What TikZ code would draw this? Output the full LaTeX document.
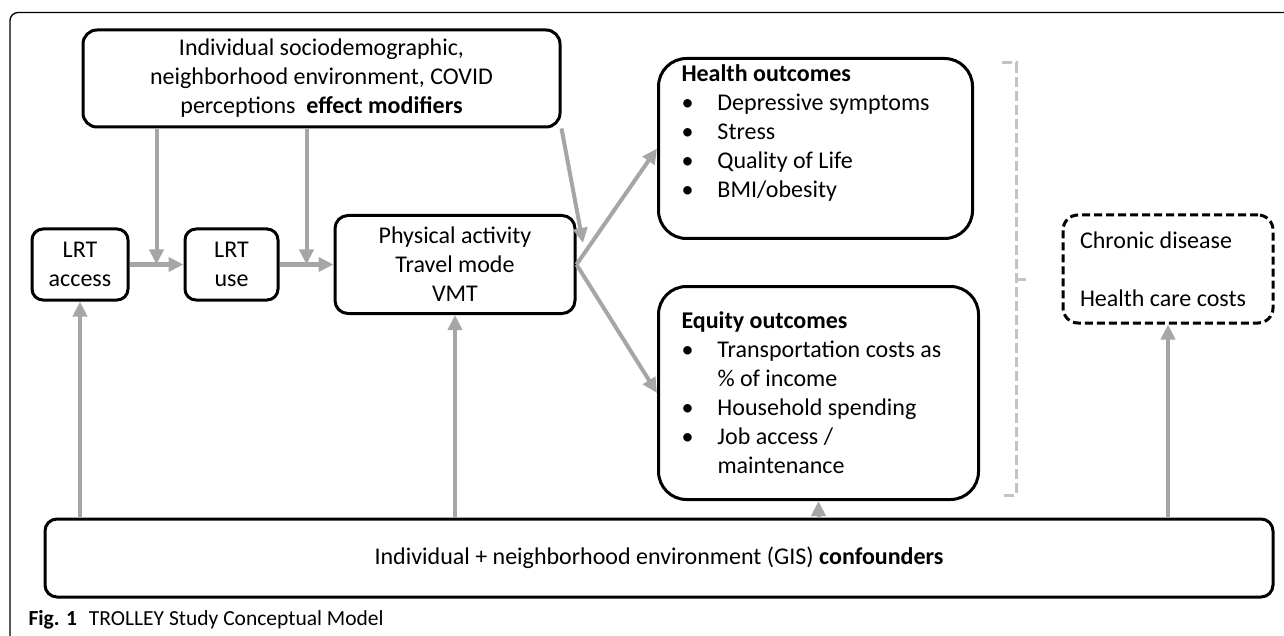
\documentclass[tikz,border=0pt]{standalone}
\usepackage{fontspec}
\setmainfont{Carlito}
\usepackage{tikz}
\usetikzlibrary{arrows.meta,calc}
\definecolor{arrgray}{HTML}{A6A6A6}
\definecolor{brgray}{HTML}{C3C3C3}
\newcommand{\bul}{\makebox[36pt][l]{\textbullet}}

\begin{document}
\begin{tikzpicture}[x=1pt, y=-1pt,
    font=\fontsize{24}{29}\selectfont,
    box/.style={draw, line width=3pt, rounded corners=#1, align=center, inner sep=0pt},
    box/.default=11pt,
    dbox/.style={box=15pt, dash pattern=on 8pt off 4pt},
    arr/.style={draw=arrgray, line width=4pt, -{Triangle[length=15pt,width=14pt]}},
    brk/.style={draw=brgray, line width=3pt, dash pattern=on 10pt off 4pt}]
    \useasboundingbox (0,0) rectangle (1284,636);
    % Frame of the figure
    \draw[line width=1.3pt, rounded corners=8pt] (10,636) -- (10,12.5) -- (1284,12.5);
    % Boxes
    \node[box=14pt, minimum width=477pt, minimum height=97pt] (mods) at (321.5,78.5)
        {Individual sociodemographic,\\ neighborhood environment, COVID\\ perceptions\ \ \textbf{effect modifiers}};
    \node[box, minimum width=96pt, minimum height=71pt] (acc) at (80,264.5) {LRT\\ access};
    \node[box, minimum width=93pt, minimum height=71pt] (use) at (231.5,264.5) {LRT\\ use};
    \node[box=13pt, minimum width=240pt, minimum height=98pt] (phys) at (455,264.5)
        {Physical activity\\ Travel mode\\ VMT};
    \node[box=28pt, anchor=north west, inner xsep=23pt, inner ysep=2.5pt] (health) at (657,57)
        {\begin{minipage}[t][175pt][t]{268pt}
        \strut\textbf{Health outcomes}\\
        \bul Depressive symptoms\\
        \bul Stress\\
        \bul Quality of Life\\
        \bul BMI/obesity
        \end{minipage}};
    \node[box=28pt, anchor=north west, inner xsep=23pt, inner ysep=22pt] (equity) at (657,285)
        {\begin{minipage}[t][169pt][t]{274pt}
        \strut\textbf{Equity outcomes}\\
        \bul Transportation costs as\\
        \hspace*{36pt}\% of income\\
        \bul Household spending\\
        \bul Job access /\\
        \hspace*{36pt}maintenance
        \end{minipage}};
    \node[dbox, minimum width=210pt, minimum height=108pt, text width=176pt, align=flush left] (chronic) at (1168,269)
        {Chronic disease\\[29pt] Health care costs};
    \node[box=12pt, minimum width=1228pt, minimum height=78pt] (conf) at (659,558)
        {Individual + neighborhood environment (GIS) \textbf{confounders}};
    % Bracket round the outcomes
    \draw[brk] (1002,63) -- (1016,63) -- (1016,495) -- (1002,495);
    \draw[brk] (1016,279) -- (1028,279);
    % Arrows
    \coordinate (m1) at ($(acc.east)!0.5!(use.west)$);
    \coordinate (m2) at ($(use.east)!0.5!(phys.west)$);
    \coordinate (mtip) at (583,243);
    \draw[arr] (acc.east) -- (use.west);
    \draw[arr] (use.east) -- (phys.west);
    \draw[arr] (mods.south -| m1) -- (m1);
    \draw[arr] (mods.south -| m2) -- (m2);
    \draw[arr] (mods.south east) -- (mtip);
    \draw[arr] (phys.east) -- (health.west);
    \draw[arr] (phys.east) -- (equity.west);
    \draw[arr] (acc |- conf.north) -- (acc.south);
    \draw[arr] (phys |- conf.north) -- (phys.south);
    \draw[arr] (equity |- conf.north) -- (equity.south);
    \draw[arr] (chronic |- conf.north) -- (chronic.south);
    % Caption
    \node[anchor=west, font=\fontsize{21.5}{26}\selectfont] (cap) at (25,620)
        {\textbf{Fig. 1}\hspace{12pt}TROLLEY Study Conceptual Model};
\end{tikzpicture}
\end{document}
